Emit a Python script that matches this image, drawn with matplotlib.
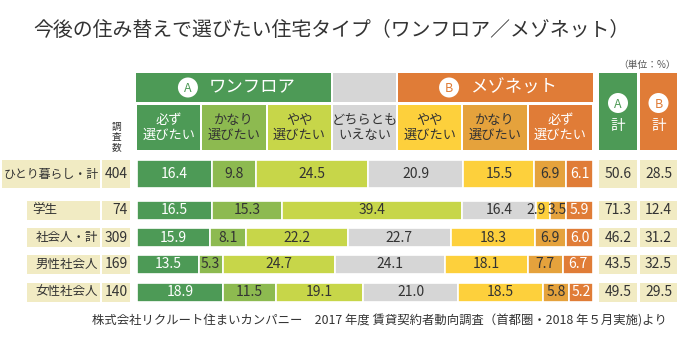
import matplotlib.pyplot as plt
from matplotlib.patches import Rectangle, Circle

plt.rcParams['font.family'] = ['Noto Sans CJK JP', 'DejaVu Sans']

title = '今後の住み替えで選びたい住宅タイプ（ワンフロア／メゾネット）'
source = '株式会社リクルート住まいカンパニー　2017 年度 賃貸契約者動向調査（首都圏・2018 年５月実施)より'
unit = '（単位：%）'

groups = ['ひとり暮らし・計', '学生', '社会人・計', '男性社会人', '女性社会人']
counts = [404, 74, 309, 169, 140]
choices = ['必ず\n選びたい', 'かなり\n選びたい', 'やや\n選びたい', 'どちらとも\nいえない',
           'やや\n選びたい', 'かなり\n選びたい', '必ず\n選びたい']

# shares per answer (%), one list per column
must_a = [16.4, 16.5, 15.9, 13.5, 18.9]
fairly_a = [9.8, 15.3, 8.1, 5.3, 11.5]
somewhat_a = [24.5, 39.4, 22.2, 24.7, 19.1]
neutral = [20.9, 16.4, 22.7, 24.1, 21.0]
somewhat_b = [15.5, 2.9, 18.3, 18.1, 18.5]
fairly_b = [6.9, 3.5, 6.9, 7.7, 5.8]
must_b = [6.1, 5.9, 6.0, 6.7, 5.2]
total_a = [50.6, 71.3, 46.2, 43.5, 49.5]
total_b = [28.5, 12.4, 31.2, 32.5, 29.5]

columns = [must_a, fairly_a, somewhat_a, neutral, somewhat_b, fairly_b, must_b]
colors = ['#4d9a56', '#8dba50', '#c7d649', '#d6d6d6', '#fdd03c', '#e5a23c', '#e07c37']
txt_colors = ['white', '#333333', '#333333', '#333333', '#333333', '#333333', 'white']
green, orange, beige = '#4d9a56', '#e07c37', '#f1ebc3'
dark = '#333333'

W, H = 680, 338
fig = plt.figure(figsize=(W / 100, H / 100), dpi=100)

# layout axes in pixel units for the table parts
lay = fig.add_axes([0, 0, 1, 1])
lay.set_xlim(0, W)
lay.set_ylim(H, 0)
lay.axis('off')

def box(x0, x1, y0, y1, color):
    lay.add_patch(Rectangle((x0, y0), x1 - x0, y1 - y0, color=color, lw=0))

lay.text(33, 31, title, fontsize=14.3, color=dark, va='center', ha='left')
lay.text(676, 65, unit, fontsize=7, color='#555555', va='center', ha='right')
lay.text(667, 321, source, fontsize=8.9, color=dark, va='center', ha='right')

# header rows
bx0, bx1 = 136, 593
cw = (bx1 - bx0) / 7
edges = [bx0 + i * cw for i in range(8)]
box(edges[0], edges[3] - 1, 73, 102, green)
box(edges[3] + 1, edges[4] - 1, 73, 102, '#d6d6d6')
box(edges[4] + 1, edges[7], 73, 102, orange)
for cx, letter, label, col in [((edges[0] + edges[3]) / 2, 'A', 'ワンフロア', green),
                               ((edges[4] + edges[7]) / 2, 'B', 'メゾネット', orange)]:
    lay.add_patch(Circle((cx - 46, 87.5), 10, color='white', lw=0))
    lay.text(cx - 46, 88, letter, fontsize=9, color=col, ha='center', va='center')
    lay.text(cx + 18, 87.5, label, fontsize=12.5, color='white', ha='center', va='center')

for i, lab in enumerate(choices):
    box(edges[i] + 1, edges[i + 1] - 1, 105, 150, colors[i])
    lay.text((edges[i] + edges[i + 1]) / 2, 128, lab, fontsize=9.5, color=txt_colors[i],
             ha='center', va='center', linespacing=1.15)

# A / B totals header
for x0, x1, letter, col in [(599, 637, 'A', green), (640, 677, 'B', orange)]:
    box(x0, x1, 73, 150, col)
    cx = (x0 + x1) / 2
    lay.add_patch(Circle((cx, 103), 10, color='white', lw=0))
    lay.text(cx, 104, letter, fontsize=9, color=col, ha='center', va='center')
    lay.text(cx, 126, '計', fontsize=10.5, color='white', ha='center', va='center')

lay.text(117, 137, '調\n査\n数', fontsize=7, color=dark, ha='center', va='center', linespacing=0.95)

# row layout (pixel rows)
row_y = [174, 210, 237.5, 264.5, 292]
row_h = [28, 19, 19, 19, 19]

for i, name in enumerate(groups):
    y0, y1 = row_y[i] - row_h[i] / 2, row_y[i] + row_h[i] / 2
    if i == 0:
        box(2, 100, y0, y1, beige)
        lay.text(51, row_y[i], name, fontsize=8.6, color=dark, ha='center', va='center')
    else:
        box(27, 100, y0, y1, beige)
        if len(name) <= 2:
            lay.text(32, row_y[i], name, fontsize=9, color=dark, ha='left', va='center')
        else:
            lay.text(98, row_y[i], name, fontsize=9, color=dark, ha='right', va='center')
    box(102, 130, y0, y1, beige)
    lay.text(128, row_y[i], str(counts[i]), fontsize=10, color=dark, ha='right', va='center')
    box(599, 637, y0, y1, beige)
    box(640, 677, y0, y1, beige)
    lay.text(618, row_y[i], f'{total_a[i]:.1f}', fontsize=10, color=dark, ha='center', va='center')
    lay.text(658.5, row_y[i], f'{total_b[i]:.1f}', fontsize=10, color=dark, ha='center', va='center')

# stacked bars on a percentage axis
top, bottom = 150, 310
ax = fig.add_axes([137 / W, 1 - bottom / H, (bx1 - 137) / W, (bottom - top) / H])
ax.set_xlim(0, 100)
ax.set_ylim(bottom, top)
ax.axis('off')

left = [0.0] * len(groups)
for j, vals in enumerate(columns):
    ax.barh(row_y, vals, height=row_h, left=left, color=colors[j], edgecolor='white', linewidth=1.2)
    for i, v in enumerate(vals):
        # very thin segments: nudge the label left so it clears its neighbour
        dx = -7 if v < 3 else 0
        ax.annotate(f'{v:.1f}', (left[i] + v / 2, row_y[i]), xytext=(dx, 0),
                    textcoords='offset pixels', fontsize=10, color=txt_colors[j],
                    ha='center', va='center')
    left = [l + v for l, v in zip(left, vals)]

fig.savefig('out.png', dpi=100)
